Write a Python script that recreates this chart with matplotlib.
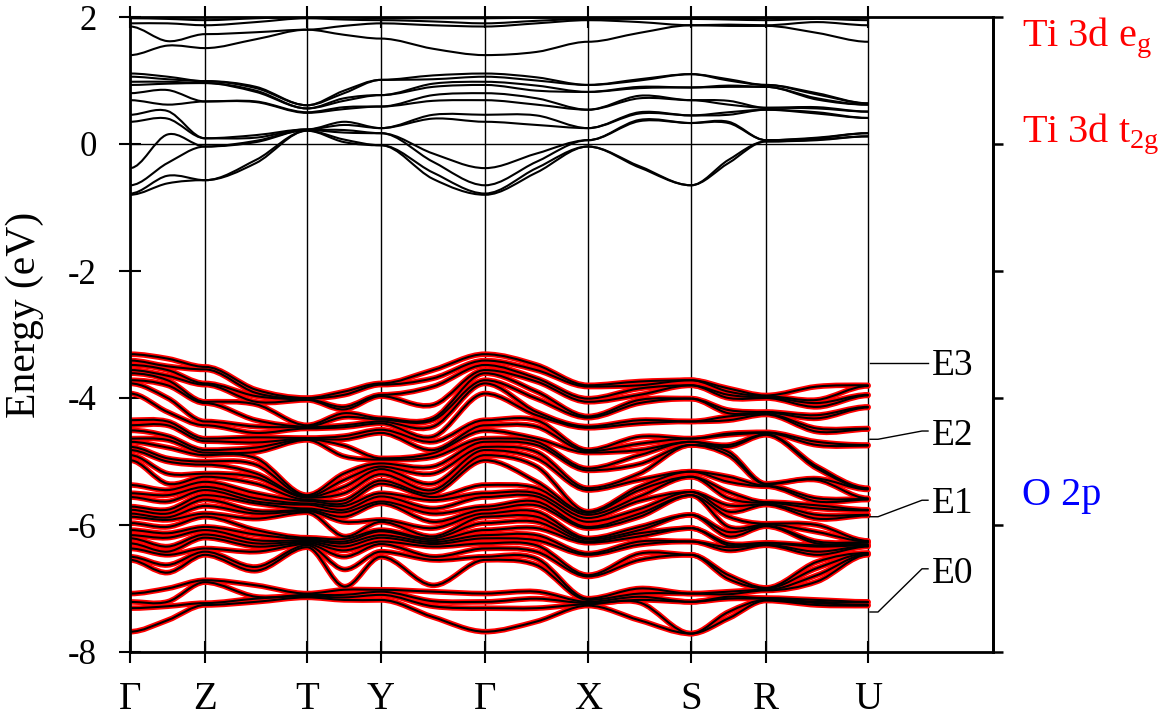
import numpy as np
import matplotlib.pyplot as plt
from matplotlib.path import Path
from matplotlib.patches import PathPatch

plt.rcParams['font.family'] = ['Liberation Serif', 'DejaVu Serif']
plt.rcParams['mathtext.fontset'] = 'custom'
plt.rcParams['mathtext.rm'] = 'Liberation Serif'
plt.rcParams['axes.unicode_minus'] = False

# k-path: high-symmetry points and their path distance
kpt_labels = ['Γ', 'Z', 'T', 'Y', 'Γ', 'X', 'S', 'R', 'U']
kpt_dist = [0.0, 0.75, 1.77, 2.51, 3.55, 4.58, 5.61, 6.36, 7.38]

# band energies (eV) read at each high-symmetry point and at the middle of
# each segment: rows are G, G-Z, Z, Z-T, T, T-Y, Y, Y-G, G, G-X, X, X-S, S, S-R, R, R-U, U
eg_bands = [
    [1.40, 1.85, 1.90, 1.98],
    [1.55, 1.62, 1.90, 1.97],
    [1.51, 1.73, 1.87, 1.95],
    [1.65, 1.76, 1.92, 1.98],
    [1.80, 1.80, 1.98, 2.00],
    [1.72, 1.86, 1.96, 2.00],
    [1.66, 1.90, 1.95, 1.98],
    [1.50, 1.87, 1.93, 1.98],
    [1.40, 1.85, 1.90, 1.98],
    [1.45, 1.90, 1.94, 1.99],
    [1.61, 1.95, 1.97, 1.99],
    [1.75, 1.92, 1.97, 2.00],
    [1.87, 1.87, 1.97, 1.99],
    [1.86, 1.88, 1.96, 1.99],
    [1.86, 1.87, 1.95, 1.98],
    [1.75, 1.92, 1.97, 1.99],
    [1.61, 1.87, 1.95, 1.99],
]

t2g_bands = [
    [1.11, 1.06, 0.98, 0.93, 0.80, 0.69, 0.46, 0.35, -0.38, -0.65, -0.78, -0.80],
    [1.06, 1.02, 0.98, 0.95, 0.85, 0.62, 0.52, 0.40, 0.15, -0.30, -0.50, -0.62],
    [0.99, 0.99, 0.96, 0.96, 0.67, 0.67, 0.09, 0.09, -0.04, -0.04, -0.57, -0.57],
    [0.90, 0.88, 0.84, 0.82, 0.67, 0.66, 0.14, 0.10, 0.05, 0.03, -0.25, -0.30],
    [0.61, 0.61, 0.56, 0.56, 0.50, 0.49, 0.23, 0.23, 0.22, 0.22, 0.21, 0.21],
    [0.84, 0.80, 0.72, 0.68, 0.58, 0.55, 0.35, 0.30, 0.22, 0.18, 0.07, 0.03],
    [1.01, 1.01, 0.77, 0.77, 0.59, 0.59, 0.25, 0.25, 0.17, 0.17, -0.02, -0.02],
    [1.08, 1.02, 0.95, 0.90, 0.77, 0.68, 0.46, 0.40, -0.15, -0.28, -0.45, -0.55],
    [1.11, 1.06, 0.98, 0.93, 0.80, 0.69, 0.46, 0.35, -0.38, -0.65, -0.78, -0.80],
    [1.05, 1.00, 0.92, 0.84, 0.72, 0.62, 0.45, 0.30, -0.15, -0.28, -0.38, -0.45],
    [0.93, 0.93, 0.82, 0.82, 0.54, 0.54, 0.25, 0.25, 0.06, 0.06, -0.04, -0.04],
    [1.02, 1.00, 0.90, 0.88, 0.76, 0.72, 0.50, 0.48, 0.38, 0.36, -0.35, -0.37],
    [1.10, 1.10, 0.89, 0.89, 0.69, 0.69, 0.45, 0.45, 0.33, 0.33, -0.65, -0.65],
    [1.02, 1.00, 0.92, 0.90, 0.68, 0.62, 0.50, 0.46, 0.35, 0.33, -0.25, -0.30],
    [0.93, 0.93, 0.90, 0.90, 0.57, 0.57, 0.54, 0.54, 0.06, 0.06, 0.04, 0.04],
    [0.80, 0.78, 0.72, 0.70, 0.58, 0.56, 0.50, 0.48, 0.10, 0.09, 0.07, 0.06],
    [0.64, 0.64, 0.62, 0.62, 0.51, 0.51, 0.41, 0.41, 0.17, 0.17, 0.12, 0.12],
]

o2p_bands = [
    # G
    [-3.31, -3.41, -3.48, -3.56, -3.61, -3.72, -3.77, -3.93, -4.35, -4.43, -4.51, -4.64,
     -4.69, -4.77, -4.82, -4.90, -4.98, -5.37, -5.50, -5.56, -5.71, -5.76, -5.82, -5.87,
     -5.97, -6.08, -6.16, -6.21, -6.29, -6.37, -6.50, -6.55, -7.08, -7.21, -7.31, -7.68],
    [-3.38, -3.50, -3.56, -3.65, -3.72, -3.80, -4.00, -4.22, -4.37, -4.43, -4.60, -4.66,
     -4.78, -4.95, -5.00, -5.19, -5.35, -5.45, -5.53, -5.63, -5.76, -5.82, -5.88, -5.92,
     -6.03, -6.13, -6.20, -6.34, -6.42, -6.47, -6.63, -6.75, -7.00, -7.21, -7.28, -7.50],
    # Z
    [-3.51, -3.55, -3.77, -3.79, -4.06, -4.08, -4.37, -4.43, -4.64, -4.68, -4.82, -4.86,
     -4.90, -5.00, -5.05, -5.19, -5.24, -5.32, -5.40, -5.45, -5.53, -5.60, -5.70, -5.82,
     -5.87, -6.03, -6.08, -6.15, -6.20, -6.37, -6.42, -6.47, -6.87, -6.90, -7.23, -7.26],
    [-3.87, -3.92, -3.97, -4.06, -4.10, -4.35, -4.45, -4.55, -4.62, -4.70, -4.78, -4.85,
     -4.95, -5.05, -5.19, -5.25, -5.35, -5.50, -5.58, -5.63, -5.66, -5.78, -5.82, -5.90,
     -6.08, -6.15, -6.24, -6.29, -6.34, -6.42, -6.66, -6.72, -6.95, -7.13, -7.16, -7.21],
    # T
    [-4.00, -4.01, -4.02, -4.03, -4.43, -4.45, -4.46, -4.48, -4.63, -4.64, -4.65, -4.66,
     -5.53, -5.55, -5.56, -5.57, -5.60, -5.62, -5.66, -5.68, -5.74, -5.76, -5.78, -5.80,
     -6.20, -6.22, -6.24, -6.26, -6.28, -6.30, -6.32, -6.35, -7.08, -7.10, -7.12, -7.14],
    [-3.90, -3.95, -4.14, -4.18, -4.24, -4.30, -4.43, -4.46, -4.60, -4.65, -4.75, -4.92,
     -5.19, -5.29, -5.40, -5.50, -5.61, -5.66, -5.70, -5.76, -5.80, -5.87, -5.95, -6.18,
     -6.22, -6.26, -6.29, -6.34, -6.40, -6.50, -6.70, -6.97, -7.02, -7.10, -7.14, -7.18],
    # Y
    [-3.77, -3.79, -3.95, -3.97, -4.32, -4.34, -4.37, -4.40, -4.50, -4.55, -4.95, -4.97,
     -5.03, -5.08, -5.12, -5.20, -5.30, -5.35, -5.50, -5.55, -5.63, -5.66, -5.92, -5.95,
     -6.08, -6.10, -6.16, -6.20, -6.26, -6.30, -6.42, -6.50, -7.02, -7.05, -7.10, -7.18],
    [-3.56, -3.69, -3.82, -4.11, -4.32, -4.35, -4.45, -4.61, -4.69, -4.82, -4.87, -4.93,
     -5.08, -5.19, -5.35, -5.45, -5.50, -5.56, -5.61, -5.74, -5.82, -5.95, -6.05, -6.18,
     -6.21, -6.24, -6.27, -6.30, -6.34, -6.50, -6.55, -6.95, -7.05, -7.20, -7.28, -7.45],
    # G
    [-3.31, -3.41, -3.48, -3.56, -3.61, -3.72, -3.77, -3.93, -4.35, -4.43, -4.51, -4.64,
     -4.69, -4.77, -4.82, -4.90, -4.98, -5.37, -5.50, -5.56, -5.71, -5.76, -5.82, -5.87,
     -5.97, -6.08, -6.16, -6.21, -6.29, -6.37, -6.50, -6.55, -7.08, -7.21, -7.31, -7.68],
    [-3.48, -3.56, -3.69, -3.74, -3.90, -4.01, -4.22, -4.27, -4.35, -4.45, -4.64, -4.69,
     -4.74, -4.85, -4.95, -5.08, -5.32, -5.42, -5.50, -5.55, -5.63, -5.69, -5.79, -5.87,
     -5.95, -6.05, -6.16, -6.24, -6.32, -6.42, -6.53, -6.63, -7.05, -7.16, -7.31, -7.52],
    # X
    [-3.80, -3.82, -4.01, -4.06, -4.29, -4.31, -4.45, -4.47, -4.82, -4.84, -4.86, -5.11,
     -5.14, -5.42, -5.45, -5.79, -5.81, -5.84, -5.89, -5.95, -6.03, -6.05, -6.21, -6.23,
     -6.26, -6.28, -6.45, -6.47, -6.79, -6.81, -7.16, -7.18, -7.21, -7.23, -7.25, -7.27],
    [-3.74, -3.80, -3.85, -3.95, -4.03, -4.08, -4.35, -4.40, -4.61, -4.72, -4.82, -4.90,
     -5.04, -5.19, -5.29, -5.40, -5.45, -5.55, -5.62, -5.75, -5.82, -5.87, -6.03, -6.08,
     -6.13, -6.18, -6.26, -6.31, -6.45, -6.55, -7.00, -7.08, -7.13, -7.18, -7.22, -7.50],
    # S
    [-3.72, -3.72, -3.80, -3.80, -4.01, -4.01, -4.37, -4.37, -4.64, -4.64, -4.69, -4.69,
     -4.74, -4.74, -5.16, -5.16, -5.24, -5.24, -5.48, -5.48, -5.53, -5.53, -5.84, -5.84,
     -6.05, -6.05, -6.26, -6.26, -6.47, -6.47, -7.08, -7.08, -7.21, -7.21, -7.71, -7.71],
    [-3.85, -3.90, -3.95, -4.00, -4.19, -4.24, -4.29, -4.35, -4.56, -4.58, -4.74, -4.77,
     -4.85, -4.90, -5.24, -5.32, -5.48, -5.58, -5.69, -5.79, -5.87, -6.03, -6.11, -6.18,
     -6.29, -6.32, -6.35, -6.40, -6.79, -6.85, -7.05, -7.09, -7.13, -7.16, -7.37, -7.47],
    # R
    [-3.96, -3.97, -3.99, -4.00, -4.22, -4.23, -4.25, -4.26, -4.54, -4.55, -4.57, -4.58,
     -5.35, -5.36, -5.38, -5.39, -5.64, -5.65, -5.67, -5.68, -5.98, -5.99, -6.01, -6.02,
     -6.28, -6.29, -6.31, -6.32, -6.99, -7.00, -7.02, -7.03, -7.15, -7.16, -7.18, -7.19],
    [-3.82, -4.03, -4.08, -4.14, -4.27, -4.32, -4.48, -4.53, -4.69, -4.74, -5.08, -5.11,
     -5.27, -5.29, -5.58, -5.63, -5.69, -5.74, -5.84, -5.90, -6.00, -6.11, -6.26, -6.29,
     -6.32, -6.34, -6.42, -6.47, -6.58, -6.68, -6.79, -6.89, -7.18, -7.21, -7.23, -7.26],
    # U
    [-3.80, -3.81, -3.95, -3.96, -4.14, -4.15, -4.48, -4.49, -4.74, -4.75, -5.42, -5.43,
     -5.44, -5.58, -5.59, -5.60, -5.76, -5.77, -5.84, -5.85, -6.25, -6.26, -6.27, -6.28,
     -6.31, -6.32, -6.33, -6.34, -6.44, -6.45, -6.46, -6.47, -7.21, -7.22, -7.26, -7.27],
]

# Wannier projection windows marked on the right
level_names = ['E3', 'E2', 'E1', 'E0']
level_energy = [-3.45, -4.65, -5.87, -7.37]


def smooth_path(k, e):
    # cubic Bezier through the knots, flat at the high-symmetry points
    m = np.zeros_like(e)
    m[1::2] = (e[2::2] - e[:-2:2]) / (k[2::2] - k[:-2:2])
    verts = [(k[0], e[0])]
    codes = [Path.MOVETO]
    for i in range(len(k) - 1):
        dk = k[i + 1] - k[i]
        verts += [(k[i] + dk / 3, e[i] + m[i] * dk / 3),
                  (k[i + 1] - dk / 3, e[i + 1] - m[i + 1] * dk / 3),
                  (k[i + 1], e[i + 1])]
        codes += [Path.CURVE4] * 3
    return Path(verts, codes)


khs = np.array(kpt_dist)
knots = np.empty(2 * len(khs) - 1)
knots[0::2] = khs
knots[1::2] = (khs[:-1] + khs[1:]) / 2

fig = plt.figure(figsize=(11.67, 7.21), dpi=100)
ax = fig.add_axes([130 / 1167, 1 - 652 / 721, 863 / 1167, 635 / 721])


def draw_bands(table, color, lw, z):
    arr = np.sort(np.array(table, dtype=float), axis=1)[:, ::-1]
    for n in range(arr.shape[1]):
        ax.add_patch(PathPatch(smooth_path(knots, arr[:, n]), fill=False,
                               edgecolor=color, lw=lw, zorder=z,
                               capstyle='round', joinstyle='round'))


# DFT bands in black, Wannier-fitted O 2p bands in red underneath
draw_bands(o2p_bands, 'red', 4.0, 2)
draw_bands(o2p_bands, 'black', 1.5, 3)
draw_bands(t2g_bands, 'black', 1.5, 3)
draw_bands(eg_bands, 'black', 1.5, 3)

for k in kpt_dist:
    ax.axvline(k, color='black', lw=1.0, zorder=1)
ax.plot([0, kpt_dist[-1]], [0, 0], color='black', lw=1.0, zorder=1)

ax.set_xlim(0, 8.63)
ax.set_ylim(-8, 2)
ax.set_xticks(kpt_dist)
ax.set_xticklabels(kpt_labels, fontsize=28)
ax.set_yticks(range(-8, 3, 2))
ax.set_yticklabels([str(v) for v in range(-8, 3, 2)], fontsize=25)
ax.tick_params(axis='x', direction='inout', length=16, width=1.5, top=True, pad=13)
ax.tick_params(axis='y', direction='inout', length=16, width=1.5, pad=16)
for s in ax.spines.values():
    s.set_linewidth(2)

ax2 = ax.twinx()
ax2.set_ylim(-8, 2)
ax2.set_yticks(range(-8, 3, 2))
ax2.tick_params(axis='y', direction='out', length=7, width=1.8, labelright=False)
for name, s in ax2.spines.items():
    s.set_visible(name == 'right')
    s.set_linewidth(2)

fig.text(25 / 1167, 1 - 315 / 721, 'Energy (eV)', rotation=90, ha='center',
         va='center', fontsize=30)

# projection labels
ax.text(8.92, 1.53, r'Ti 3d e$_\mathregular{g}$', color='red', fontsize=29,
        va='baseline', ha='left')
ax.text(8.92, 0.03, r'Ti 3d t$_\mathregular{2g}$', color='red', fontsize=29,
        va='baseline', ha='left')
ax.text(8.92, -5.69, 'O 2p', color='blue', fontsize=29, va='baseline', ha='left')

# energy window markers with leader lines
text_mid = [-3.45, -4.52, -5.61, -6.69]
text_base = [-3.64, -4.74, -5.81, -6.91]
for name, e, tm, tb in zip(level_names, level_energy, text_mid, text_base):
    ax.plot([7.40, 7.48, 7.92, 7.98], [e, e, tm, tm], color='black', lw=1.0,
            zorder=4)
    ax.text(8.02, tb, name, fontsize=27, va='baseline', ha='left')

fig.savefig('out.png', dpi=100)
